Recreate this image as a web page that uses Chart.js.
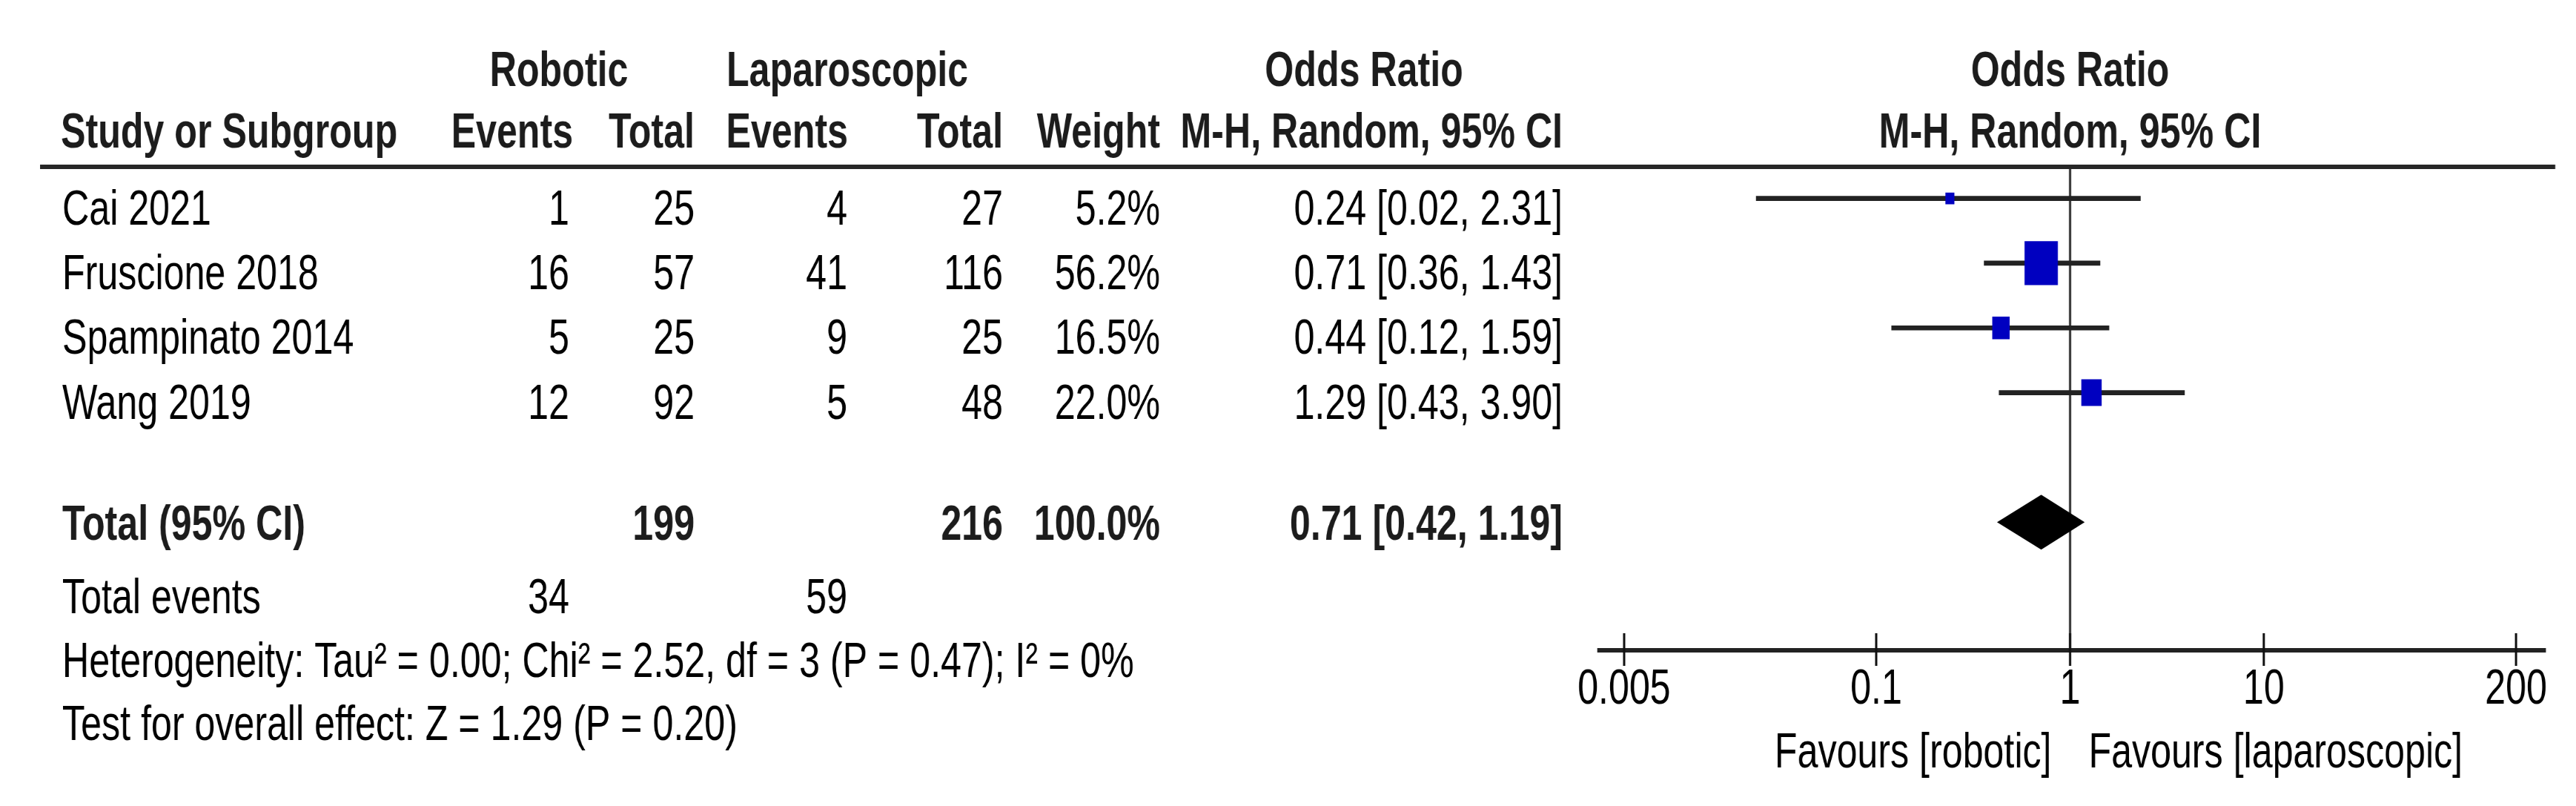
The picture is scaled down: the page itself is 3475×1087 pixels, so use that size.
<!DOCTYPE html>
<html>
<head>
<meta charset="utf-8">
<title>Forest plot - robotic vs laparoscopic</title>
<script src="https://cdn.jsdelivr.net/npm/chart.js@4.4.0/dist/chart.umd.min.js"></script>
<style>
    html, body { margin: 0; padding: 0; background: #fff; overflow: hidden; }
    /* the source figure is squeezed horizontally, so the whole canvas is too */
    #wrap { position: absolute; left: 0; top: 0; width: 4572px; height: 1087px;
            transform: scaleX(0.76); transform-origin: 0 0; }
</style>
</head>
<body>
<div id="wrap"><canvas id="forest"></canvas></div>
<script>
// ---- data ----
const studies = ['Cai 2021', 'Fruscione 2018', 'Spampinato 2014', 'Wang 2019'];
const roboticEvents = [1, 16, 5, 12];
const roboticTotal = [25, 57, 25, 92];
const lapEvents = [4, 41, 9, 5];
const lapTotal = [27, 116, 25, 48];
const weights = [5.2, 56.2, 16.5, 22.0];
const oddsRatio = [0.24, 0.71, 0.44, 1.29];
const ciLow = [0.024, 0.36, 0.12, 0.43];
const ciHigh = [2.31, 1.43, 1.59, 3.90];

const pooledOR = 0.71;
const pooledLow = 0.42;
const pooledHigh = 1.19;
const pooledTotals = ['199', '216', '100.0%'];
const totalEvents = ['34', '59'];
const xTickValues = [0.005, 0.1, 1, 10, 200];

const heterogeneity = 'Heterogeneity: Tau\u00b2 = 0.00; Chi\u00b2 = 2.52, df = 3 (P = 0.47); I\u00b2 = 0%';
const overallEffect = 'Test for overall effect: Z = 1.29 (P = 0.20)';

// ---- layout (positions in pixels of the final picture) ----
const SX = 0.76;
const X = v => v / SX;
const FONT = '"Liberation Sans", Arial, sans-serif';
const FSIZE = 66;
const totalRow = 5;
const COL = { re: 768, rt: 937, le: 1143, lt: 1353, w: 1565, or: 2108 };

const fmt = v => v.toFixed(2);
const ciText = i => `${fmt(oddsRatio[i])} [${fmt(ciLow[i])}, ${fmt(ciHigh[i])}]`;

function txt(ctx, s, x, y, align, bold) {
    ctx.font = (bold ? 'bold ' : '') + FSIZE + 'px ' + FONT;
    ctx.textAlign = align;
    ctx.textBaseline = 'alphabetic';
    ctx.fillStyle = bold ? '#1c1c1c' : '#000';
    ctx.fillText(s, X(x), y);
}

const forestExtras = {
    id: 'forestExtras',
    beforeDatasetsDraw(chart) {
        const { ctx, chartArea, scales: { x: xs } } = chart;
        const p1 = xs.getPixelForValue(1);
        ctx.save();
        ctx.strokeStyle = '#333';
        ctx.lineWidth = X(3);
        ctx.beginPath();
        ctx.moveTo(p1, chartArea.top);
        ctx.lineTo(p1, chartArea.bottom);
        ctx.stroke();

        // tick marks crossing the axis
        ctx.strokeStyle = '#111';
        xs.ticks.forEach(t => {
            const px = xs.getPixelForValue(t.value);
            ctx.beginPath();
            ctx.moveTo(px, chartArea.bottom - 23);
            ctx.lineTo(px, chartArea.bottom + 21);
            ctx.stroke();
        });
        ctx.restore();
    },
    afterDatasetsDraw(chart) {
        const { ctx, scales: { x: xs, y: ys } } = chart;
        const cy = ys.getPixelForValue(totalRow);
        const h = 37;
        ctx.save();
        ctx.fillStyle = '#000';
        ctx.beginPath();
        ctx.moveTo(xs.getPixelForValue(pooledLow), cy);
        ctx.lineTo(xs.getPixelForValue(pooledOR), cy - h);
        ctx.lineTo(xs.getPixelForValue(pooledHigh), cy);
        ctx.lineTo(xs.getPixelForValue(pooledOR), cy + h);
        ctx.closePath();
        ctx.fill();
        ctx.restore();
    },
    afterDraw(chart) {
        const { ctx, chartArea, scales: { x: xs, y: ys } } = chart;
        ctx.save();

        // header rule
        ctx.strokeStyle = '#262626';
        ctx.lineWidth = 6;
        ctx.beginPath();
        ctx.moveTo(X(54), chartArea.top + 1);
        ctx.lineTo(X(3447), chartArea.top + 1);
        ctx.stroke();

        // headers
        txt(ctx, 'Robotic', 754, 116, 'center', true);
        txt(ctx, 'Laparoscopic', 1143, 116, 'center', true);
        txt(ctx, 'Odds Ratio', 1840, 116, 'center', true);
        txt(ctx, 'Study or Subgroup', 82, 199, 'left', true);
        txt(ctx, 'Events', 773, 199, 'right', true);
        txt(ctx, 'Total', COL.rt, 199, 'right', true);
        txt(ctx, 'Events', 1144, 199, 'right', true);
        txt(ctx, 'Total', COL.lt, 199, 'right', true);
        txt(ctx, 'Weight', COL.w, 199, 'right', true);
        txt(ctx, 'M-H, Random, 95% CI', COL.or, 199, 'right', true);

        const p1 = xs.getPixelForValue(1) * SX;
        txt(ctx, 'Odds Ratio', p1, 116, 'center', true);
        txt(ctx, 'M-H, Random, 95% CI', p1, 199, 'center', true);

        // study rows
        studies.forEach((s, i) => {
            const y = ys.getPixelForValue(i) + 35;
            txt(ctx, s, 84, y, 'left');
            txt(ctx, String(roboticEvents[i]), COL.re, y, 'right');
            txt(ctx, String(roboticTotal[i]), COL.rt, y, 'right');
            txt(ctx, String(lapEvents[i]), COL.le, y, 'right');
            txt(ctx, String(lapTotal[i]), COL.lt, y, 'right');
            txt(ctx, weights[i].toFixed(1) + '%', COL.w, y, 'right');
            txt(ctx, ciText(i), COL.or, y, 'right');
        });

        // pooled row
        txt(ctx, 'Total (95% CI)', 84, 728, 'left', true);
        txt(ctx, pooledTotals[0], COL.rt, 728, 'right', true);
        txt(ctx, pooledTotals[1], COL.lt, 728, 'right', true);
        txt(ctx, pooledTotals[2], COL.w, 728, 'right', true);
        txt(ctx, `${fmt(pooledOR)} [${fmt(pooledLow)}, ${fmt(pooledHigh)}]`, COL.or, 728, 'right', true);

        txt(ctx, 'Total events', 84, 827, 'left');
        txt(ctx, totalEvents[0], COL.re, 827, 'right');
        txt(ctx, totalEvents[1], COL.le, 827, 'right');
        txt(ctx, heterogeneity, 84, 913, 'left');
        txt(ctx, overallEffect, 84, 998, 'left');

        // favours labels
        txt(ctx, 'Favours [robotic]', p1 - 25, 1035, 'right');
        txt(ctx, 'Favours [laparoscopic]', p1 + 25, 1035, 'left');

        ctx.restore();
    }
};

const squares = studies.map((s, i) => ({ x: oddsRatio[i], y: i }));
const ciBars = studies.map((s, i) => ({ x: [ciLow[i], ciHigh[i]], y: i }));
// square side grows with the root of the weight
const squareRadius = weights.map(w => (8.3 * Math.sqrt(w) - 3) / Math.SQRT2);

new Chart(document.getElementById('forest'), {
    type: 'bar',
    data: {
        datasets: [{
            type: 'scatter',
            label: 'OR',
            data: squares,
            pointStyle: 'rect',
            pointRadius: squareRadius,
            pointHoverRadius: squareRadius,
            backgroundColor: '#0000c0',
            borderWidth: 0
        }, {
            type: 'bar',
            label: '95% CI',
            data: ciBars,
            indexAxis: 'y',
            barThickness: 6,
            backgroundColor: '#222',
            borderWidth: 0
        }]
    },
    options: {
        responsive: true,
        maintainAspectRatio: false,
        animation: false,
        indexAxis: 'y',
        layout: {
            padding: { left: X(2157), right: 4572 - X(3434), top: 224, bottom: 80 }
        },
        plugins: {
            legend: { display: false },
            tooltip: { enabled: false }
        },
        scales: {
            x: {
                type: 'logarithmic',
                min: 0.00371,
                max: 284.4,
                bounds: 'data',
                beginAtZero: false,
                offset: false,
                afterBuildTicks: scale => {
                    scale.ticks = xTickValues.map(v => ({ value: v }));
                },
                afterFit: scale => { scale.height = 130; },
                grid: { display: false, drawTicks: false },
                border: { display: true, width: 6, color: '#222' },
                ticks: {
                    autoSkip: false,
                    maxRotation: 0,
                    padding: 14,
                    color: '#000',
                    font: { family: FONT, size: FSIZE },
                    callback: v => String(v)
                }
            },
            y: {
                type: 'linear',
                display: false,
                reverse: true,
                offset: false,
                min: -0.5,
                max: 6.98
            }
        }
    },
    plugins: [forestExtras]
});
</script>
</body>
</html>
